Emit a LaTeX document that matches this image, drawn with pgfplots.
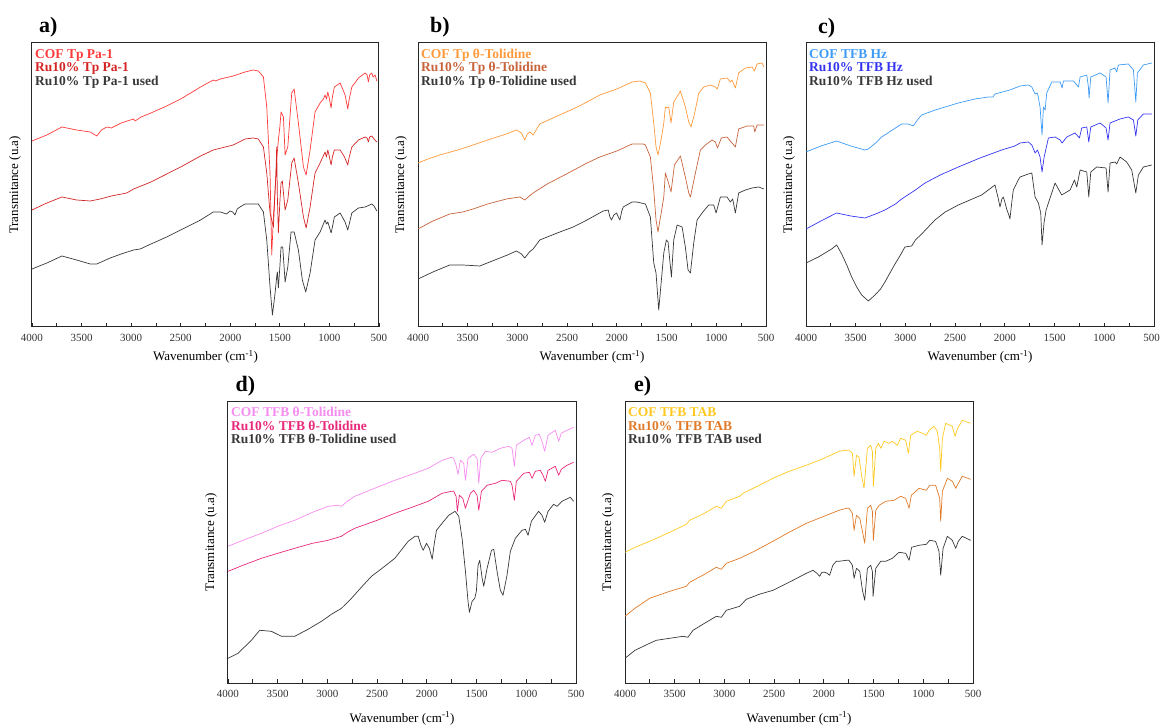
\documentclass[border=0pt]{standalone}
\usepackage{fontspec}
\setmainfont{Liberation Serif}
\usepackage{pgfplots}
\pgfplotsset{compat=1.18}
\definecolor{aone}{HTML}{FF3A3A}
\definecolor{atwo}{HTML}{D42424}
\definecolor{bone}{HTML}{FF9A3C}
\definecolor{btwo}{HTML}{C8643C}
\definecolor{cone}{HTML}{3D9BF5}
\definecolor{ctwo}{HTML}{3434F0}
\definecolor{done}{HTML}{F58CF0}
\definecolor{dtwo}{HTML}{E8287A}
\definecolor{eone}{HTML}{FFC820}
\definecolor{etwo}{HTML}{E07A28}
\definecolor{kk}{HTML}{383838}
\pgfplotsset{ftir/.style={
  scale only axis, x dir=reverse, xmin=500, xmax=4000, ymin=0, ymax=#1,
  xtick={500,1000,...,4000}, minor x tick num=1, ytick=\empty,
  xtick pos=left, tick align=inside, major tick length=4pt, minor tick length=4pt,
  every tick/.style={black!85, line width=0.8pt},
  axis line style={black!85, line width=1pt},
  /pgf/number format/assume math mode=true, /pgf/number format/1000 sep={},
  xticklabel style={font=\fontsize{11}{12}\selectfont, text=black!80, yshift=-3.5pt},
  label style={font=\fontsize{13}{14}\selectfont},
  xlabel={Wavenumber (cm\textsuperscript{-1})},
  ylabel={Transmitance (u.a)},
  ylabel style={at={(axis description cs:-0.049,0.5)}, anchor=center},
  clip mode=individual,
  every axis plot/.append style={line width=0.7pt, line join=round},
}}
\newcommand{\legA}[3]{\node[anchor=base west, inner sep=0pt, font=\bfseries\fontsize{13.5}{13.5}\selectfont, text=#1, xshift=3pt, yshift=#2] at (rel axis cs:0,1) {#3};}
\newcommand{\panel}[3]{\node[anchor=base west, inner sep=0pt, font=\bfseries\fontsize{22}{22}\selectfont, xshift=#1, yshift=#2] at (rel axis cs:0,1) {#3};}
\begin{document}
\begin{tikzpicture}
\useasboundingbox (0,0) rectangle (1161pt,727pt);
% ---------------- a ----------------
\begin{axis}[ftir=284, at={(32pt,400pt)}, anchor=south west, width=347pt, height=284pt,
  xlabel style={at={(axis description cs:0.5,-0.106)}, anchor=center}]
\addplot[aone] coordinates {(4000,186) (3850,192) (3698,200) (3550,197) (3413,195) (3346,191) (3300,197) (3245,200) (3200,199) (3100,204) (2976,208) (2960,206) (2900,210) (2800,214) (2641,221) (2500,228) (2300,240) (2171,247) (2150,246) (2100,248) (1970,251) (1851,255) (1768,257) (1717,256) (1666,250) (1632,220) (1599,154) (1582,72) (1565,110) (1548,137) (1530,170) (1515,187) (1500,200) (1488,215) (1464,210) (1447,172) (1420,180) (1380,234) (1356,238) (1313,204) (1262,160) (1235,152) (1195,177) (1145,215) (1094,224) (1060,228) (1044,232) (1030,228) (1016,235) (1000,228) (983,219) (970,230) (950,240) (892,244) (842,232) (815,218) (800,228) (774,240) (707,249) (640,254) (620,252) (607,245) (595,252) (573,254) (560,250) (539,252) (522,246)};
\addplot[atwo] coordinates {(4000,117) (3850,124) (3698,130) (3550,127) (3413,126) (3312,128) (3200,131) (3044,134) (2976,138) (2800,145) (2641,153) (2500,160) (2300,171) (2171,177) (1970,182) (1851,188) (1768,189) (1717,188) (1666,180) (1632,154) (1599,114) (1565,100) (1548,137) (1540,150) (1532,180) (1525,130) (1515,94) (1500,125) (1488,144) (1475,146) (1447,117) (1420,127) (1380,164) (1356,169) (1313,144) (1262,110) (1235,99) (1195,120) (1145,154) (1094,164) (1044,175) (1030,170) (1016,177) (1000,170) (983,162) (970,170) (950,177) (892,177) (848,170) (815,162) (800,170) (774,180) (707,187) (640,190) (620,189) (607,185) (595,190) (573,191) (550,188) (522,185)};
\addplot[kk] coordinates {(4000,58) (3850,64) (3698,71) (3550,67) (3413,63) (3346,63) (3211,69) (3100,73) (2976,77) (2909,78) (2800,83) (2641,90) (2500,97) (2300,107) (2171,115) (2100,115) (2037,113) (2003,116) (1975,115) (1953,112) (1930,118) (1903,120) (1851,123) (1768,123) (1717,123) (1666,115) (1632,87) (1599,40) (1575,12) (1548,34) (1530,52) (1525,55) (1515,39) (1500,60) (1488,80) (1471,80) (1447,45) (1420,60) (1387,95) (1356,95) (1313,77) (1273,47) (1239,35) (1195,54) (1145,87) (1094,95) (1044,107) (1030,103) (1016,105) (983,94) (970,100) (950,110) (892,114) (842,105) (815,97) (800,103) (774,114) (707,119) (640,120) (573,123) (550,121) (522,116)};
\legA{aone}{-15.7pt}{COF Tp Pa-1}
\legA{atwo}{-29pt}{Ru10\% Tp Pa-1}
\legA{kk}{-42.3pt}{Ru10\% Tp Pa-1 used}
\panel{7pt}{10.5pt}{a)}
\end{axis}
% ---------------- b ----------------
\begin{axis}[ftir=284, at={(418pt,400pt)}, anchor=south west, width=348pt, height=284pt,
  xlabel style={at={(axis description cs:0.5,-0.106)}, anchor=center}]
\addplot[bone] coordinates {(4000,164) (3900,168) (3782,172) (3600,177) (3446,182) (3300,187) (3111,193) (3010,197) (2960,194) (2926,187) (2900,193) (2876,195) (2842,192) (2800,199) (2775,203) (2600,211) (2439,218) (2300,225) (2171,232) (2000,238) (1847,245) (1768,246) (1713,244) (1663,234) (1629,204) (1606,180) (1586,172) (1570,180) (1552,189) (1528,204) (1512,220) (1495,219) (1478,220) (1455,204) (1428,225) (1384,232) (1361,236) (1311,220) (1277,205) (1254,200) (1217,214) (1176,234) (1126,240) (1059,242) (1009,240) (990,238) (959,248) (892,249) (858,245) (842,247) (808,239) (775,254) (707,259) (640,260) (617,256) (590,263) (539,264) (522,260)};
\addplot[btwo] coordinates {(4000,98) (3850,106) (3681,113) (3550,115) (3446,118) (3300,123) (3111,128) (2976,130) (2926,127) (2880,131) (2842,134) (2700,143) (2507,153) (2300,164) (2171,170) (2000,176) (1847,183) (1735,183) (1713,182) (1663,170) (1629,137) (1606,107) (1586,95) (1570,105) (1552,115) (1528,130) (1512,154) (1500,150) (1489,147) (1455,135) (1421,162) (1361,171) (1311,150) (1277,134) (1260,130) (1210,154) (1160,177) (1109,182) (1042,187) (1009,185) (988,179) (949,189) (892,190) (842,184) (808,180) (775,198) (691,201) (624,201) (613,195) (590,202) (522,202)};
\addplot[kk] coordinates {(4000,48) (3850,55) (3681,62) (3550,62) (3379,61) (3278,65) (3100,72) (3010,76) (2960,73) (2926,69) (2880,75) (2842,78) (2775,87) (2600,94) (2439,100) (2300,107) (2137,116) (2087,117) (2070,110) (2054,107) (2030,112) (2003,114) (1985,110) (1970,107) (1950,116) (1936,120) (1847,125) (1800,125) (1713,123) (1663,110) (1629,64) (1606,54) (1579,17) (1552,47) (1528,74) (1502,87) (1485,85) (1468,67) (1451,50) (1428,87) (1394,102) (1344,100) (1311,80) (1284,57) (1260,54) (1227,84) (1193,107) (1143,114) (1076,122) (1026,122) (1002,114) (959,130) (892,130) (858,125) (835,128) (808,114) (775,134) (707,137) (640,139) (573,140) (522,138)};
\legA{bone}{-15.7pt}{COF Tp θ-Tolidine}
\legA{btwo}{-29pt}{Ru10\% Tp θ-Tolidine}
\legA{kk}{-42.3pt}{Ru10\% Tp θ-Tolidine used}
\panel{12pt}{10.3pt}{b)}
\end{axis}
% ---------------- c ----------------
\begin{axis}[ftir=284, at={(806pt,400pt)}, anchor=south west, width=348pt, height=284pt,
  xticklabels={\hspace*{-5pt}500,1000,1500,2000,2500,3000,3500,4000},
  xlabel style={at={(axis description cs:0.5,-0.106)}, anchor=center}]
\addplot[cone] coordinates {(4000,175) (3850,181) (3692,186) (3550,181) (3407,177) (3373,178) (3300,184) (3239,190) (3100,199) (3038,203) (2971,203) (2921,201) (2880,207) (2837,212) (2700,217) (2468,224) (2300,228) (2166,230) (2120,230) (2099,233) (1950,237) (1847,241) (1764,242) (1729,240) (1696,233) (1672,234) (1646,220) (1626,192) (1612,220) (1595,217) (1579,234) (1528,245) (1444,245) (1424,239) (1411,246) (1311,246) (1260,240) (1243,250) (1176,252) (1160,240) (1153,229) (1136,250) (1042,254) (982,250) (962,224) (942,257) (892,259) (875,255) (858,262) (758,263) (707,257) (683,225) (667,254) (607,262) (522,264)};
\addplot[ctwo] coordinates {(4000,98) (3850,106) (3692,114) (3550,111) (3407,109) (3300,113) (3206,117) (3100,123) (3038,128) (2900,137) (2803,144) (2650,152) (2468,160) (2250,169) (2032,177) (1900,181) (1847,184) (1764,185) (1729,182) (1696,174) (1672,177) (1646,170) (1626,155) (1605,170) (1562,189) (1495,190) (1444,187) (1424,184) (1377,190) (1294,194) (1250,189) (1227,199) (1176,200) (1156,185) (1136,200) (1042,204) (982,199) (962,187) (942,204) (842,208) (758,210) (707,207) (683,191) (663,207) (607,213) (522,213)};
\addplot[kk] coordinates {(4000,64) (3876,70) (3742,78) (3692,82) (3641,73) (3590,62) (3541,50) (3490,40) (3440,32) (3373,26) (3306,32) (3250,38) (3206,45) (3150,55) (3105,63) (3050,72) (3005,80) (2937,81) (2900,87) (2837,93) (2703,107) (2600,115) (2468,122) (2234,132) (2099,142) (2070,130) (2049,120) (2030,128) (2016,130) (2000,125) (1982,118) (1960,112) (1949,108) (1930,125) (1915,137) (1865,147) (1847,150) (1764,153) (1729,154) (1696,130) (1663,124) (1639,114) (1626,82) (1605,105) (1585,117) (1545,129) (1495,144) (1428,132) (1344,137) (1300,147) (1277,140) (1243,157) (1176,155) (1156,130) (1136,155) (1076,160) (982,159) (962,135) (942,164) (892,165) (875,163) (842,170) (775,165) (724,157) (683,134) (657,152) (607,160) (522,162)};
\legA{cone}{-15.7pt}{COF TFB Hz}
\legA{ctwo}{-29pt}{Ru10\% TFB Hz}
\legA{kk}{-42.3pt}{Ru10\% TFB Hz used}
\panel{12pt}{9.7pt}{c)}
\end{axis}
% ---------------- d ----------------
\begin{axis}[ftir=282, at={(228pt,43.7pt)}, anchor=south west, width=348pt, height=282pt,
  xlabel style={at={(axis description cs:0.5,-0.124)}, anchor=center}]
\addplot[done] coordinates {(4000,137) (3850,143) (3664,150) (3500,157) (3329,163) (3150,171) (2993,177) (2900,178) (2859,177) (2800,182) (2725,187) (2500,196) (2322,203) (2150,209) (1986,215) (1847,223) (1751,226) (1730,225) (1706,218) (1686,209) (1663,223) (1629,220) (1612,203) (1586,225) (1529,229) (1495,225) (1478,200) (1458,225) (1411,232) (1344,231) (1261,235) (1177,237) (1143,235) (1120,217) (1100,238) (1026,243) (969,246) (942,238) (909,248) (869,249) (842,242) (815,232) (781,248) (708,253) (674,242) (648,250) (591,253) (524,256)};
\addplot[dtwo] coordinates {(4000,112) (3850,118) (3664,125) (3500,130) (3329,135) (3150,140) (2993,143) (2859,147) (2800,151) (2725,155) (2500,163) (2322,170) (2150,176) (1986,182) (1847,190) (1751,192) (1730,192) (1706,187) (1693,172) (1673,188) (1639,185) (1612,175) (1586,183) (1562,190) (1529,193) (1495,188) (1478,173) (1451,192) (1394,198) (1311,200) (1244,203) (1160,202) (1143,198) (1120,183) (1100,202) (1026,210) (969,211) (942,205) (909,212) (859,213) (832,208) (808,202) (781,213) (708,217) (674,208) (648,214) (591,218) (524,221)};
\addplot[kk] coordinates {(4000,25) (3899,30) (3765,43) (3681,53) (3564,52) (3463,47) (3329,47) (3195,54) (3060,62) (2960,69) (2859,75) (2758,85) (2650,97) (2557,107) (2450,115) (2322,125) (2188,142) (2120,147) (2087,147) (2060,138) (2037,133) (2003,140) (1975,135) (1946,124) (1925,140) (1903,153) (1847,160) (1780,168) (1716,172) (1679,167) (1646,145) (1612,112) (1586,82) (1572,71) (1545,82) (1518,85) (1502,92) (1485,118) (1468,123) (1444,105) (1428,97) (1394,115) (1350,133) (1327,134) (1294,112) (1261,93) (1234,88) (1194,108) (1160,132) (1110,145) (1043,153) (1009,154) (982,148) (949,162) (876,172) (842,168) (815,161) (781,172) (725,179) (691,177) (641,182) (557,186) (524,182)};
\legA{done}{-15.7pt}{COF TFB θ-Tolidine}
\legA{dtwo}{-29pt}{Ru10\% TFB θ-Tolidine}
\legA{kk}{-42.3pt}{Ru10\% TFB θ-Tolidine used}
\panel{7.5pt}{9.3pt}{d)}
\end{axis}
% ---------------- e ----------------
\begin{axis}[ftir=282, at={(625pt,43.7pt)}, anchor=south west, width=348pt, height=282pt,
  xlabel style={at={(axis description cs:0.5,-0.124)}, anchor=center}]
\addplot[eone] coordinates {(4000,131) (3900,136) (3752,142) (3550,151) (3383,159) (3350,163) (3200,170) (3082,177) (3031,175) (2981,182) (2847,187) (2813,190) (2650,198) (2512,205) (2350,212) (2176,218) (2000,225) (1847,232) (1774,233) (1747,233) (1713,230) (1696,207) (1672,228) (1646,226) (1619,207) (1596,195) (1562,235) (1529,238) (1512,232) (1502,197) (1478,235) (1451,240) (1428,235) (1394,242) (1344,240) (1311,242) (1261,238) (1227,245) (1177,243) (1150,230) (1127,248) (1060,252) (1009,250) (969,248) (942,253) (892,257) (859,252) (835,235) (825,212) (808,245) (775,260) (708,257) (681,247) (654,255) (608,263) (524,260)};
\addplot[etwo] coordinates {(4000,67) (3900,75) (3752,85) (3550,92) (3383,97) (3350,101) (3200,109) (3082,116) (3031,114) (2981,120) (2847,125) (2700,132) (2512,142) (2350,151) (2176,160) (2000,167) (1847,173) (1774,175) (1747,175) (1713,170) (1696,153) (1672,168) (1639,165) (1612,152) (1589,140) (1562,175) (1529,178) (1512,172) (1502,143) (1478,173) (1444,178) (1377,182) (1294,183) (1227,187) (1177,185) (1143,175) (1120,188) (1043,195) (969,193) (936,198) (876,198) (835,185) (825,162) (808,192) (758,205) (708,202) (674,195) (648,200) (608,207) (524,204)};
\addplot[kk] coordinates {(4000,25) (3900,33) (3752,40) (3685,43) (3550,45) (3417,47) (3367,46) (3316,53) (3200,60) (3082,67) (3031,66) (2981,73) (2847,77) (2780,84) (2650,89) (2512,93) (2350,101) (2176,110) (2109,113) (2070,110) (2042,107) (2020,111) (1992,111) (1965,110) (1942,108) (1910,118) (1875,122) (1847,122) (1774,123) (1747,123) (1713,118) (1696,105) (1672,115) (1639,112) (1612,93) (1589,83) (1562,115) (1529,118) (1512,112) (1505,87) (1478,115) (1428,122) (1377,122) (1311,125) (1244,131) (1177,130) (1143,123) (1117,136) (1043,138) (969,139) (936,143) (876,142) (842,132) (825,108) (801,135) (758,147) (708,143) (674,135) (648,142) (608,147) (524,143)};
\legA{eone}{-15.7pt}{COF TFB TAB}
\legA{etwo}{-29pt}{Ru10\% TFB TAB}
\legA{kk}{-42.3pt}{Ru10\% TFB TAB used}
\panel{9pt}{9.3pt}{e)}
\end{axis}
\end{tikzpicture}
\end{document}
